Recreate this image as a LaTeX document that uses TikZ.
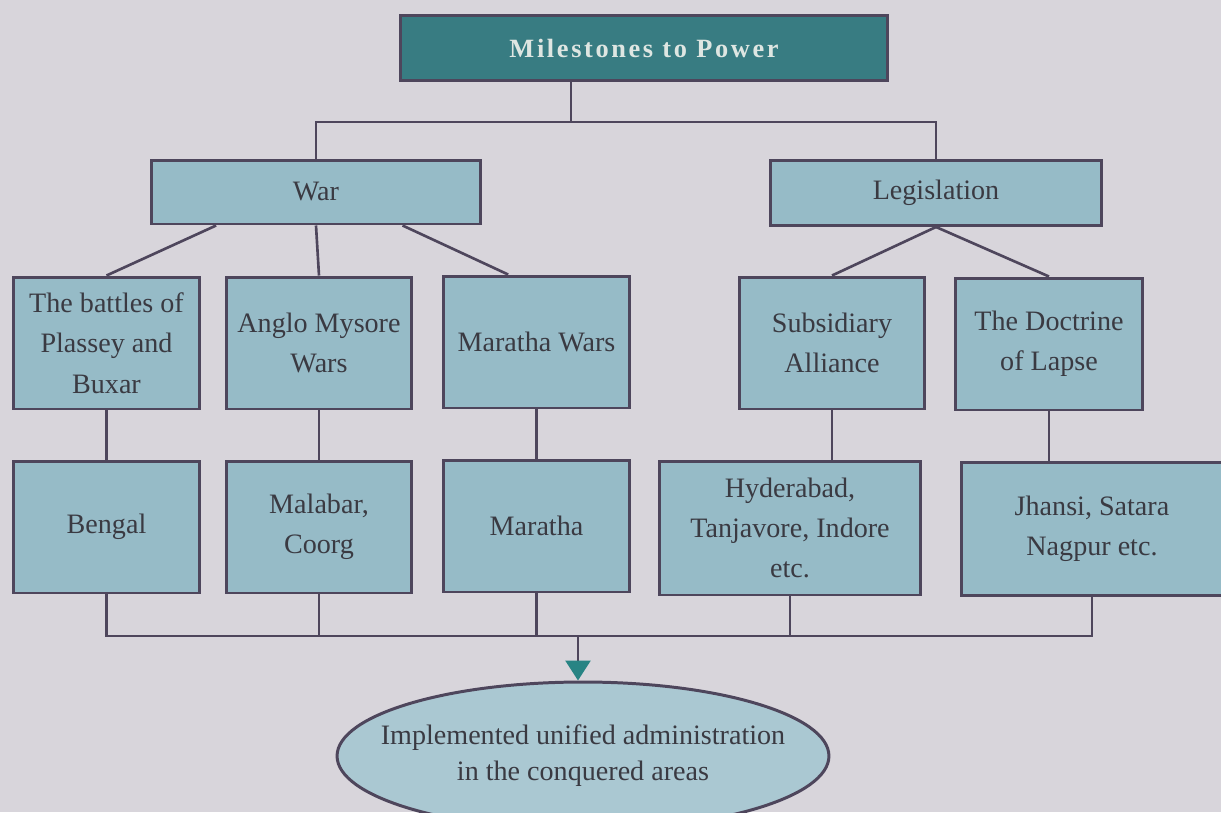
\documentclass[tikz,border=0pt]{standalone}
\usepackage{fontspec}
\setmainfont{Liberation Serif}
\newfontfamily\ttlfont[LetterSpace=10]{Liberation Serif}
\usepackage{tikz}
\usetikzlibrary{shapes.geometric, arrows.meta, positioning, calc}

\definecolor{paper}{RGB}{216,213,219}
\definecolor{boxfill}{RGB}{150,187,199}
\definecolor{ovalfill}{RGB}{170,200,210}
\definecolor{edgec}{RGB}{78,70,92}
\definecolor{titlefill}{RGB}{56,124,130}
\definecolor{titletext}{RGB}{222,230,226}
\definecolor{inkc}{RGB}{58,58,66}
\definecolor{tipc}{RGB}{40,132,132}

\begin{document}
\begin{tikzpicture}[x=0.02cm, y=-0.02cm,
    box/.style={draw=edgec, line width=1.7pt, fill=boxfill, text=inkc, align=center,
                inner sep=0pt, font=\fontsize{16}{23}\selectfont},
    smallbox/.style={box, minimum width=3.72cm, minimum height=2.64cm},
    link/.style={draw=edgec, line width=1.5pt}]

% Background
\fill[paper] (0,0) rectangle (1221,812);
\useasboundingbox (0,0) rectangle (1221,812);

% Top box
\node[draw=edgec, line width=1.7pt, fill=titlefill, text=titletext, inner sep=0pt,
      minimum width=9.76cm, minimum height=1.3cm, font=\ttlfont\bfseries\fontsize{15}{18}\selectfont]
      (title) at (644,48) {Milestones to Power};

% Two ways
\node[box, minimum width=6.6cm, minimum height=1.28cm] (war) at (316,192) {War};
\node[box, minimum width=6.62cm, minimum height=1.3cm] (leg) at (936,193) {Legislation};

% Second row
\node[smallbox] (bat) at (106.5,343) {The battles of\\Plassey and\\Buxar};
\node[smallbox] (ang) at (319,343) {Anglo Mysore\\Wars};
\node[smallbox] (mwr) at (536.5,342) {Maratha Wars};
\node[smallbox] (sub) at (832,343) {Subsidiary\\Alliance};
\node[smallbox, minimum width=3.76cm] (dol) at (1049,344) {The Doctrine\\of Lapse};

% Third row
\node[smallbox] (ben) at (106.5,527) {Bengal};
\node[smallbox] (mal) at (319,527) {Malabar,\\Coorg};
\node[smallbox] (mar) at (536.5,526) {Maratha};
\node[smallbox, minimum width=5.22cm, minimum height=2.68cm] (hyd) at (790,528) {Hyderabad,\\Tanjavore, Indore\\etc.};
\node[smallbox, minimum width=5.24cm, minimum height=2.66cm] (jha) at (1092,529) {Jhansi, Satara\\Nagpur etc.};

% Result
\node[ellipse, draw=edgec, line width=1.7pt, fill=ovalfill, text=inkc, align=center,
      inner xsep=-0.6cm, inner ysep=0pt, minimum width=9.84cm, minimum height=2.96cm,
      font=\fontsize{16}{20.5}\selectfont] (res) at (583,756)
      {Implemented unified administration\\in the conquered areas};

% Top links
\coordinate (tb) at (571,122);
\draw[link] (title.south -| tb) -- (tb);
\draw[link] (war.north) |- (tb) -| (leg.north);

% War branch
\draw[link] ($(war.south west)!0.2!(war.south east)$) -- (bat.north);
\draw[link] (war.south) -- (ang.north);
\draw[link] ($(war.south west)!0.76!(war.south east)$) -- ($(mwr.north west)!0.35!(mwr.north east)$);

% Legislation branch
\draw[link] (leg.south) -- (sub.north);
\draw[link] (leg.south) -- (dol.north);

% Down to the areas
\draw[link] (bat) -- (ben);
\draw[link] (ang) -- (mal);
\draw[link] (mwr) -- (mar);
\draw[link] (sub.south) -- (sub.south |- hyd.north);
\draw[link] (dol.south) -- (dol.south |- jha.north);

% Bottom links
\coordinate (bb) at (578,636);
\draw[link] (ben.south) -- (ben.south |- bb) -- (jha.south |- bb) -- (jha.south);
\foreach \n in {mal,mar,hyd}
  \draw[link] (\n.south) -- (\n.south |- bb);
\draw[link, -{Triangle[width=0.5cm, length=0.4cm, color=tipc, fill=tipc]}] (bb) -- (bb |- res.north);
\end{tikzpicture}
\end{document}
